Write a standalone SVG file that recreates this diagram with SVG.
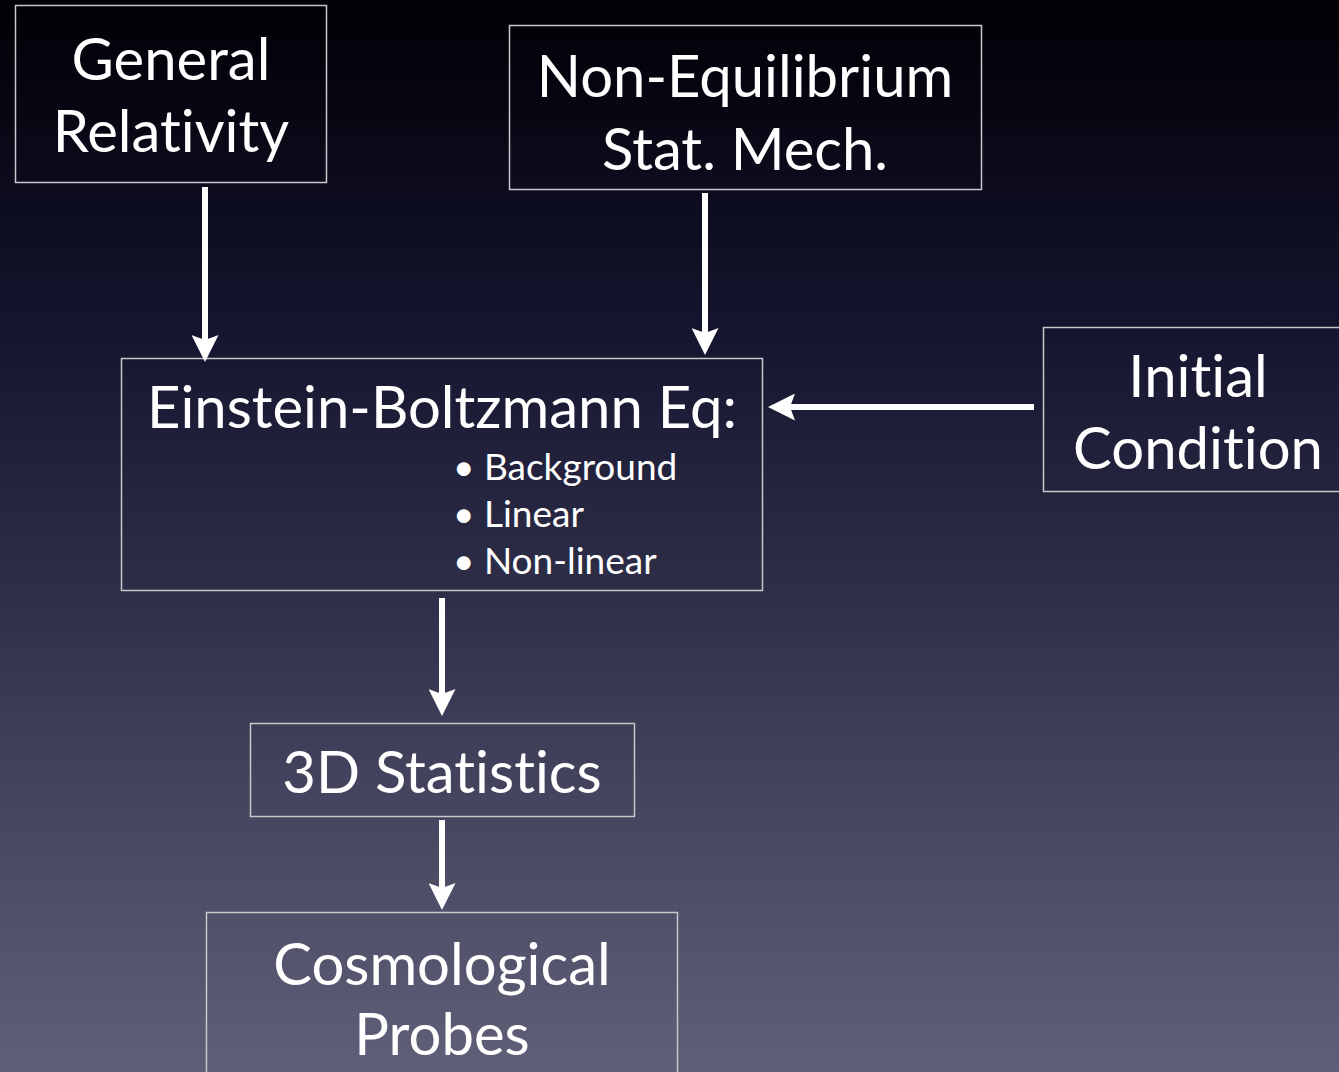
<svg xmlns="http://www.w3.org/2000/svg" width="1339" height="1072" viewBox="0 0 1339 1072">
<defs>
<linearGradient id="bg" x1="0" y1="0" x2="0" y2="1">
<stop offset="0" stop-color="#000005"/>
<stop offset="0.3" stop-color="#14142e"/>
<stop offset="0.55" stop-color="#2e2e48"/>
<stop offset="0.72" stop-color="#42425c"/>
<stop offset="1" stop-color="#5f5f78"/>
</linearGradient>
<marker id="ah" viewBox="0 0 27 27" refX="5" refY="13.5" markerWidth="27" markerHeight="27" markerUnits="userSpaceOnUse" orient="auto">
<path d="M0,0 L27,13.5 L0,27 L5,13.5 Z" fill="#ffffff"/>
</marker>
</defs>
<style>
.box{fill:none;stroke:#c8c8cc;stroke-width:1.5}
.t,.b{font-family:"Lato","Open Sans","Liberation Sans",sans-serif;fill:#ffffff;font-variant-ligatures:none;font-feature-settings:"liga" 0,"clig" 0}
.t{text-anchor:middle;font-size:58px}
.b{font-size:37px}
.c{stroke:#ffffff;stroke-width:6;fill:none;marker-end:url(#ah)}
</style>
<rect width="1339" height="1072" fill="url(#bg)"/>
<g id="gr">
<rect class="box" x="15.5" y="5.5" width="311" height="177"/>
<text class="t" x="171" y="80">General</text>
<text class="t" x="171" y="152">Relativity</text>
</g>
<g id="neq">
<rect class="box" x="509.5" y="25.5" width="472" height="164"/>
<text class="t" x="745" y="97">Non-Equilibrium</text>
<text class="t" x="745" y="170">Stat. Mech.</text>
</g>
<g id="eb">
<rect class="box" x="121.5" y="358.5" width="641" height="232"/>
<text class="t" x="442" y="428">Einstein-Boltzmann Eq:</text>
<text class="b" x="453" y="480">• Background</text>
<text class="b" x="453" y="527">• Linear</text>
<text class="b" x="453" y="574">• Non-linear</text>
</g>
<g id="ic">
<rect class="box" x="1043.5" y="327.5" width="300" height="164"/>
<text class="t" x="1198" y="397">Initial</text>
<text class="t" x="1198" y="469">Condition</text>
</g>
<g id="stats">
<rect class="box" x="250.5" y="723.5" width="384" height="93"/>
<text class="t" x="442" y="793">3D Statistics</text>
</g>
<g id="probes">
<rect class="box" x="206.5" y="912.5" width="471" height="170"/>
<text class="t" x="442" y="985">Cosmological</text>
<text class="t" x="442" y="1055">Probes</text>
</g>
<g id="connectors">
<line class="c" x1="205" y1="187" x2="205" y2="340"/>
<line class="c" x1="705" y1="193" x2="705" y2="333"/>
<line class="c" x1="1034" y1="407" x2="790" y2="407"/>
<line class="c" x1="442" y1="598" x2="442" y2="694"/>
<line class="c" x1="442" y1="820" x2="442" y2="888"/>
</g>
</svg>
